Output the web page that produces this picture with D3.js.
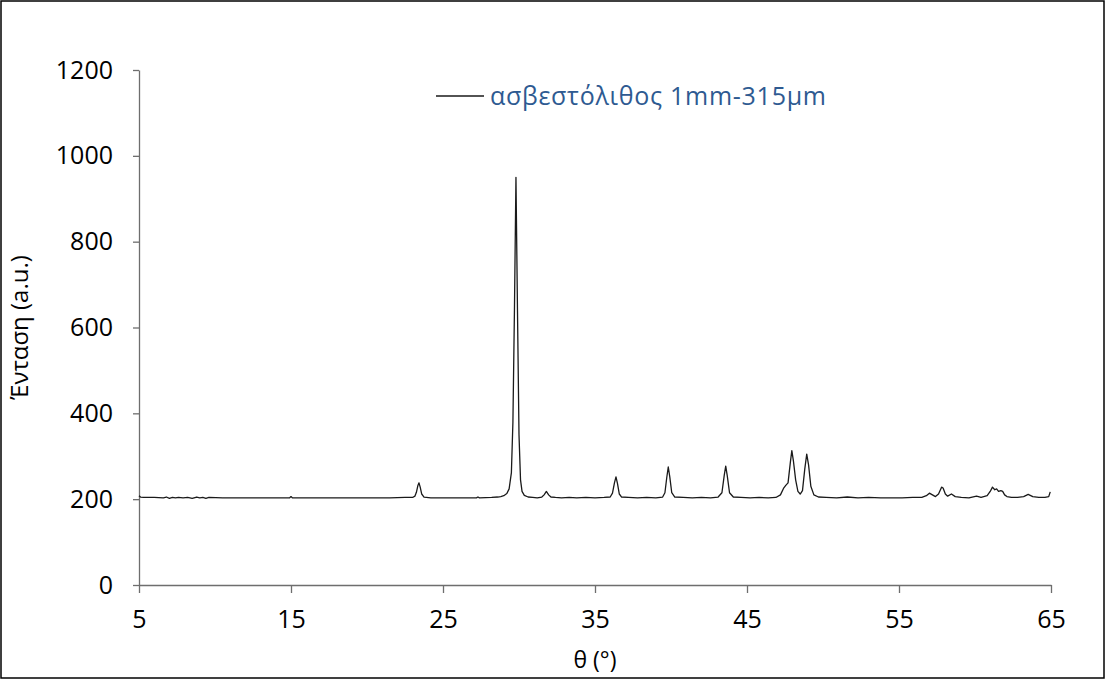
<!DOCTYPE html>
<html>
<head>
<meta charset="utf-8">
<script src="https://cdn.jsdelivr.net/npm/d3@7"></script>
<style>
  body { margin: 0; background: #fff; }
  svg { display: block; font-family: "Open Sans", "Noto Sans", sans-serif; }
</style>
</head>
<body>
<div id="chart"></div>
<script>
// XRD scan: [theta (deg), intensity (a.u.)]
const scan = [
  [5.0, 208], [5.1, 205], [5.3, 204], [6.0, 204], [6.6, 203], [6.8, 205], [7.0, 202], [7.2, 204],
  [7.4, 203], [7.6, 204], [7.9, 203], [8.2, 204], [8.5, 202], [8.8, 205], [9.0, 203], [9.2, 204],
  [9.4, 202], [9.6, 204], [10.5, 203], [12, 203], [13.5, 203], [14.9, 203], [15.0, 206], [15.1, 203],
  [17, 203], [19, 203], [20.5, 203], [21.5, 203], [22.5, 204], [23.0, 204],
  [23.15, 207], [23.25, 216], [23.35, 232], [23.42, 238], [23.5, 228], [23.6, 212], [23.75, 205],
  [24.2, 203], [25.5, 203], [26.5, 203], [27.2, 203], [27.3, 205], [27.4, 203], [28.2, 204],
  [28.6, 205], [28.8, 206], [29.0, 208], [29.2, 213], [29.35, 224], [29.5, 262], [29.6, 380],
  [29.7, 640], [29.8, 950], [29.9, 640], [30.0, 350], [30.1, 245], [30.2, 218], [30.35, 209],
  [30.6, 205], [30.9, 204], [31.2, 203], [31.5, 205], [31.65, 210], [31.8, 218], [31.95, 210],
  [32.1, 205], [32.4, 204], [32.8, 203], [33.3, 204], [33.8, 203], [34.4, 204], [35.0, 203],
  [35.6, 204], [36.0, 205], [36.15, 214], [36.28, 238], [36.38, 252], [36.48, 236], [36.6, 212],
  [36.75, 205], [37.2, 204], [37.8, 203], [38.4, 204], [39.0, 203], [39.45, 205], [39.6, 215],
  [39.72, 250], [39.82, 275], [39.92, 252], [40.05, 215], [40.25, 205], [40.8, 204], [41.4, 203],
  [42.0, 204], [42.6, 203], [43.1, 205], [43.35, 215], [43.5, 255], [43.6, 277], [43.7, 255],
  [43.85, 215], [44.1, 205], [44.6, 204], [45.2, 203], [45.8, 204], [46.4, 203], [46.9, 204],
  [47.2, 210], [47.4, 225], [47.55, 232], [47.7, 238], [47.85, 285], [47.95, 313], [48.05, 290],
  [48.2, 245], [48.35, 218], [48.5, 212], [48.65, 220], [48.8, 270], [48.93, 305], [49.05, 280],
  [49.2, 230], [49.4, 210], [49.7, 205], [50.2, 204], [50.9, 203], [51.6, 205], [52.3, 203],
  [53.0, 204], [53.8, 203], [54.5, 203], [55.2, 203], [55.9, 204], [56.5, 204], [56.8, 208],
  [57.0, 214], [57.2, 210], [57.4, 206], [57.6, 212], [57.8, 228], [57.9, 226], [58.05, 212],
  [58.2, 207], [58.45, 212], [58.7, 206], [59.1, 204], [59.6, 203], [60.1, 207], [60.4, 204],
  [60.8, 208], [61.0, 218], [61.15, 228], [61.3, 222], [61.42, 224], [61.55, 218], [61.7, 220],
  [61.82, 218], [61.95, 210], [62.1, 206], [62.4, 204], [62.8, 204], [63.2, 206], [63.5, 211],
  [63.8, 206], [64.2, 204], [64.6, 204], [64.85, 206], [64.95, 217]
];

const xTicks = [5, 15, 25, 35, 45, 55, 65];
const yTicks = [0, 200, 400, 600, 800, 1000, 1200];
const seriesName = "ασβεστόλιθος 1mm-315μm";
const xTitle = "θ (°)";
const yTitle = "Ένταση (a.u.)";

const width = 1106, height = 680;
const margin = {top: 70, right: 55, bottom: 95, left: 139};

const x = d3.scaleLinear().domain([5, 65]).range([margin.left, width - margin.right]);
const y = d3.scaleLinear().domain([0, 1200]).range([height - margin.bottom, margin.top]);

const svg = d3.select("#chart").append("svg")
  .attr("width", width)
  .attr("height", height);

svg.append("rect")
  .attr("x", 1).attr("y", 1)
  .attr("width", width - 3).attr("height", height - 3)
  .attr("fill", "#fff")
  .attr("stroke", "#000")
  .attr("stroke-width", 1.5);

const axisColor = "#6e6e6e";

const yAxis = svg.append("g")
  .attr("transform", `translate(${margin.left},0)`)
  .call(d3.axisLeft(y).tickValues(yTicks).tickFormat(d3.format("d"))
    .tickSize(6).tickPadding(20).tickSizeOuter(0));

const xAxis = svg.append("g")
  .attr("transform", `translate(0,${y(0)})`)
  .call(d3.axisBottom(x).tickValues(xTicks).tickFormat(d3.format("d"))
    .tickSize(8).tickPadding(17).tickSizeOuter(0));

[xAxis, yAxis].forEach(g => {
  g.select(".domain").attr("stroke", axisColor).attr("stroke-width", 1.3);
  g.selectAll(".tick line").attr("stroke", axisColor).attr("stroke-width", 1.3);
  g.selectAll(".tick text")
    .attr("fill", "#000")
    .style("font-size", "25px")
    .style("font-family", "'Open Sans', sans-serif");
});

const line = d3.line()
  .x(d => x(d[0]))
  .y(d => y(d[1]));

svg.append("path")
  .datum(scan)
  .attr("fill", "none")
  .attr("stroke", "#1a1a1a")
  .attr("stroke-width", 1.3)
  .attr("stroke-linejoin", "round")
  .attr("d", line);

// legend
svg.append("line")
  .attr("x1", 436).attr("x2", 484)
  .attr("y1", 96).attr("y2", 96)
  .attr("stroke", "#1a1a1a")
  .attr("stroke-width", 1.3);

svg.append("text")
  .attr("x", 490).attr("y", 105)
  .attr("fill", "#2e5a91")
  .style("font-size", "25px")
  .attr("textLength", 336)
  .attr("lengthAdjust", "spacing")
  .text(seriesName);

svg.append("text")
  .attr("x", (x.range()[0] + x.range()[1]) / 2)
  .attr("y", 668)
  .attr("text-anchor", "middle")
  .attr("fill", "#000")
  .style("font-size", "23px")
  .text(xTitle);

svg.append("text")
  .attr("transform", `translate(28,${(y.range()[0] + y.range()[1]) / 2}) rotate(-90)`)
  .attr("text-anchor", "middle")
  .attr("fill", "#000")
  .style("font-size", "24px")
  .text(yTitle);
</script>
</body>
</html>
